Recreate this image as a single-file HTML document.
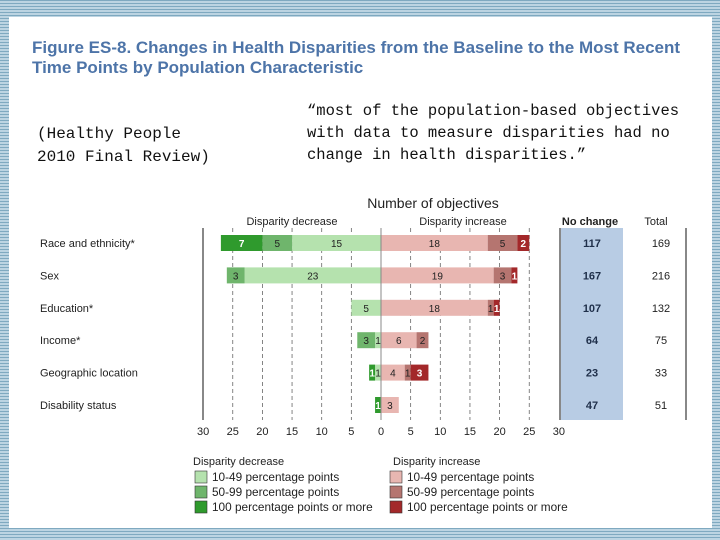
<!DOCTYPE html>
<html><head><meta charset="utf-8"><style>
body{margin:0;width:720px;height:540px;overflow:hidden;background:repeating-linear-gradient(180deg,#7fa9c0 0 1px,#bcd4e2 1px 3px);font-family:"Liberation Sans",sans-serif;}
#panel{position:absolute;left:9px;top:17px;width:703px;height:511px;background:#fff;}
.t{position:absolute;white-space:nowrap;}
</style></head><body>
<div id="panel"></div>
<div class="t" style="left:32px;top:38px;font-size:17px;line-height:20px;color:#4d74a8;font-weight:bold;letter-spacing:0px">Figure ES-8. Changes in Health Disparities from the Baseline to the Most Recent<br>Time Points by Population Characteristic</div>
<div class="t" style="left:37px;top:123px;font-family:'Liberation Mono',monospace;font-size:16px;line-height:23px;color:#111">(Healthy People<br>2010 Final Review)</div>
<div class="t" style="left:307px;top:100px;font-family:'Liberation Mono',monospace;font-size:15.5px;line-height:22px;color:#111">“most of the population-based objectives<br>with data to measure disparities had no<br>change in health disparities.”</div>
<svg id="chart" width="720" height="540" style="position:absolute;left:0;top:0"></svg>
<script>
const categories=["Race and ethnicity*","Sex","Education*","Income*","Geographic location","Disability status"];
const dec10=[15,23,5,1,1,0];
const dec50=[5,3,0,3,0,0];
const dec100=[7,0,0,0,1,1];
const inc10=[18,19,18,6,4,3];
const inc50=[5,3,1,2,1,0];
const inc100=[2,1,1,0,3,0];
const noChange=[117,167,107,64,23,47];
const totals=[169,216,132,75,33,51];
const ticks=[30,25,20,15,10,5,0,5,10,15,20,25,30];
const tickSigned=[-30,-25,-20,-15,-10,-5,0,5,10,15,20,25,30];

const svg=document.getElementById('chart');
const NS='http://www.w3.org/2000/svg';
const x0=381,ppu=5.93;
const xs=v=>x0+v*ppu;
const yRow=i=>243+i*32.4;
const bh=16;
function mk(tag,attrs,parent){const e=document.createElementNS(NS,tag);for(const k in attrs)e.setAttribute(k,attrs[k]);(parent||svg).appendChild(e);return e;}
function txt(x,y,s,opt){const e=mk('text',Object.assign({x:x,y:y,'font-family':'Liberation Sans, sans-serif','font-size':11,fill:'#222'},opt||{}));e.textContent=s;return e;}

let nc=mk('rect',{x:561,y:228,width:62,height:192,fill:'#b8cce4'});


mk('line',{x1:560,y1:228,x2:560,y2:420,stroke:'#111','stroke-width':1});
mk('line',{x1:686,y1:228,x2:686,y2:420,stroke:'#111','stroke-width':1});
mk('line',{x1:203,y1:228,x2:203,y2:420,stroke:'#111','stroke-width':1});

tickSigned.forEach(v=>{
 if(v===0||Math.abs(v)===30)return;
 const g=mk('line',{x1:xs(v),y1:228,x2:xs(v),y2:420,stroke:'#666','stroke-width':0.8,'stroke-dasharray':'4,3'});
 
 
});

const cols={d10:'#b5e2ae',d50:'#6fb56c',d100:'#2f9a2d',i10:'#e8b6b1',i50:'#b57570',i100:'#a3282a'};
const whiteLbl={d100:true,i100:true};
categories.forEach((c,i)=>{
 const y=yRow(i);
 const lab=txt(40,y+4,c,{'font-size':11});
 
 
 let acc=0;
 [['d10',dec10[i]],['d50',dec50[i]],['d100',dec100[i]]].forEach(([k,v])=>{
  if(!v)return;
  const r=mk('rect',{x:xs(-(acc+v)),y:y-bh/2,width:v*ppu,height:bh,fill:cols[k]});
  
  
  txt(xs(-(acc+v/2)),y+4,String(v),{'text-anchor':'middle','font-size':10,fill:whiteLbl[k]?'#fff':'#222','font-weight':whiteLbl[k]?'bold':'normal'});
  acc+=v;
 });
 acc=0;
 [['i10',inc10[i]],['i50',inc50[i]],['i100',inc100[i]]].forEach(([k,v])=>{
  if(!v)return;
  const r=mk('rect',{x:xs(acc),y:y-bh/2,width:v*ppu,height:bh,fill:cols[k]});
  
  
  txt(xs(acc+v/2),y+4,String(v),{'text-anchor':'middle','font-size':10,fill:whiteLbl[k]?'#fff':'#222','font-weight':whiteLbl[k]?'bold':'normal'});
  acc+=v;
 });
 const n=txt(592,y+4,String(noChange[i]),{'text-anchor':'middle','font-weight':'bold','font-size':11,fill:'#1f2f4a'});
 
 
 const t=txt(661,y+4,String(totals[i]),{'text-anchor':'middle','font-size':11});
 
 
});
mk('line',{x1:x0,y1:228,x2:x0,y2:420,stroke:'#888','stroke-width':1});

ticks.forEach((t,j)=>{
 const e=txt(xs(tickSigned[j]),435,String(t),{'text-anchor':'middle','font-size':11});
 
 
});
let h=txt(433,208,'Number of objectives',{'text-anchor':'middle','font-size':14});

h=txt(292,225,'Disparity decrease',{'text-anchor':'middle','font-size':11});

h=txt(463,225,'Disparity increase',{'text-anchor':'middle','font-size':11});

h=txt(590,225,'No change',{'text-anchor':'middle','font-size':11,'font-weight':'bold'});

h=txt(656,225,'Total',{'text-anchor':'middle','font-size':11});


const legL=[['d10','10-49 percentage points'],['d50','50-99 percentage points'],['d100','100 percentage points or more']];
const legR=[['i10','10-49 percentage points'],['i50','50-99 percentage points'],['i100','100 percentage points or more']];
txt(193,465,'Disparity decrease',{'font-size':11});
txt(393,465,'Disparity increase',{'font-size':11});
[[195,legL],[390,legR]].forEach(([lx,items])=>{
 items.forEach(([k,s],j)=>{
  const yy=471+j*15;
  const r=mk('rect',{x:lx,y:yy,width:12,height:12,fill:cols[k],stroke:'#333','stroke-width':0.6});
  
  
  const e=txt(lx+17,yy+10,s,{'font-size':11.8});
  
  
 });
});
</script>
</body></html>
